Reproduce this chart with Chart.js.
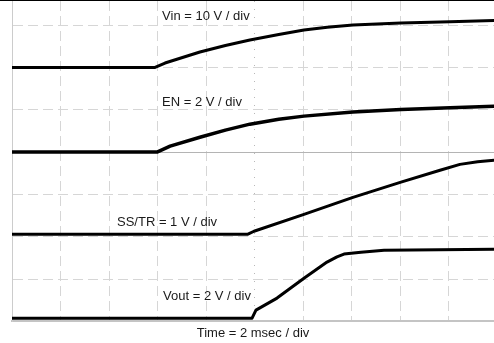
<!DOCTYPE html>
<html>
<head>
<meta charset="utf-8">
<script src="https://cdn.jsdelivr.net/npm/chart.js@4/dist/chart.umd.min.js"></script>
<style>
  html, body { margin: 0; padding: 0; background: #ffffff; }
  canvas { display: block; }
</style>
</head>
<body>
<canvas id="c" width="494" height="343"></canvas>
<script>
// ---- Data (time in msec, values in volts) ----
const timeVin = [0, 5.9, 6.31, 7.75, 8.8, 9.81, 11.0, 12.04, 13.0, 14.06, 16.04, 18.06, 19.88];
const vin     = [0, 0, 1.04, 3.64, 5.2, 6.48, 7.8, 8.84, 9.5, 10.02, 10.5, 10.8, 11.1];

const timeEn  = [0, 5.98, 6.52, 7.75, 8.8, 9.81, 11.0, 12.04, 14.06, 16.04, 18.06, 19.88];
const en      = [0, 0, 0.28, 0.70, 1.04, 1.32, 1.55, 1.70, 1.89, 2.01, 2.10, 2.17];

const timeSs  = [0, 9.73, 9.98, 12.04, 14.06, 16.04, 17.65, 18.47, 19.2, 19.88];
const ssTr    = [0, 0, 0.07, 0.47, 0.87, 1.23, 1.51, 1.65, 1.71, 1.75];

const timeOut = [0, 9.9, 10.06, 10.93, 12.04, 12.99, 13.4, 13.69, 14.39, 15.34, 19.88];
const vout    = [0, 0, 0.38, 0.95, 1.89, 2.65, 2.9, 3.03, 3.12, 3.21, 3.26];

const channelLabels = ['Vin = 10 V / div', 'EN = 2 V / div', 'SS/TR = 1 V / div', 'Vout = 2 V / div'];
const timeLabel = 'Time = 2 msec / div';

// ---- Scope settings (volts per division, ground marker in divisions from centre) ----
const voltsPerDiv = [10, 2, 1, 2];
const groundDiv   = [2, 0, -1.94, -3.924];
const screenBottomDiv = -4, screenTopDiv = 3.57;

// label anchor positions (msec, divisions)
const labelPosT = [6.19, 6.19, 4.33, 6.23];
const labelPosD = [3.215, 1.182, -1.655, -3.404];

const series = [[timeVin, vin], [timeEn, en], [timeSs, ssTr], [timeOut, vout]];
const axisIds = ['yVin', 'yEn', 'ySs', 'yOut'];
const traceWidths = [3, 3.5, 3, 3];

const datasets = series.map(([t, v], i) => ({
  data: t.map((tt, k) => ({ x: tt, y: v[k] })),
  yAxisID: axisIds[i],
  borderColor: '#000000',
  borderWidth: traceWidths[i],
  borderJoinStyle: 'round',
  pointRadius: 0,
  fill: false,
  tension: 0
}));

const scales = {
  x: {
    type: 'linear', min: 0, max: 19.876,
    ticks: { display: false, stepSize: 2, includeBounds: false },
    grid: {
      drawTicks: false,
      color: (c) => c.tick && c.tick.value === 0 ? 'rgba(0,0,0,0)' : (c.tick && c.tick.value === 10 ? '#b8b8b8' : '#d6d6d6'),
      lineWidth: 1
    },
    border: {
      display: true, color: '#c4c4c4', width: 2,
      dash: (c) => c.tick && c.tick.value === 10 ? [1, 7] : [10, 5]
    },
    title: { display: true, text: timeLabel, color: '#1a1a1a', font: { size: 13 }, padding: { top: 4, bottom: 2 } }
  },
  y: {
    type: 'linear', min: screenBottomDiv, max: screenTopDiv,
    ticks: { display: false, stepSize: 1, includeBounds: false },
    grid: {
      drawTicks: false,
      color: (c) => {
        const v = c.tick ? c.tick.value : null;
        if (v === screenBottomDiv) return 'rgba(0,0,0,0)';
        if (v === 0) return '#b4b4b4';
        return '#d6d6d6';
      },
      lineWidth: 1
    },
    border: {
      display: true, color: '#cccccc', width: 1,
      dash: (c) => c.tick && c.tick.value === 0 ? [] : [10, 5]
    }
  }
};
axisIds.forEach((id, i) => {
  scales[id] = {
    type: 'linear', display: false,
    min: (screenBottomDiv - groundDiv[i]) * voltsPerDiv[i],
    max: (screenTopDiv - groundDiv[i]) * voltsPerDiv[i]
  };
});

const framePlugin = {
  id: 'frameAndLabels',
  afterDraw(chart) {
    const ctx = chart.ctx;
    ctx.save();
    // top frame edge of the scope screen
    ctx.strokeStyle = '#000000';
    ctx.lineWidth = 2;
    ctx.beginPath();
    ctx.moveTo(0, 0);
    ctx.lineTo(chart.width, 0);
    ctx.stroke();
    // channel labels
    ctx.font = '13px "Liberation Sans", Arial, sans-serif';
    ctx.fillStyle = '#1a1a1a';
    ctx.textAlign = 'left';
    ctx.textBaseline = 'middle';
    channelLabels.forEach((txt, i) => {
      const px = chart.scales.x.getPixelForValue(labelPosT[i]);
      const py = chart.scales.y.getPixelForValue(labelPosD[i]);
      ctx.fillText(txt, px, py);
    });
    ctx.restore();
  }
};

Chart.defaults.font.family = '"Liberation Sans", Arial, sans-serif';

new Chart(document.getElementById('c'), {
  type: 'line',
  data: { datasets },
  options: {
    responsive: false,
    devicePixelRatio: 1,
    animation: false,
    layout: { padding: { left: 12, top: 1, right: 0, bottom: 0 } },
    plugins: { legend: { display: false }, tooltip: { enabled: false } },
    scales
  },
  plugins: [framePlugin]
});
</script>
</body>
</html>
